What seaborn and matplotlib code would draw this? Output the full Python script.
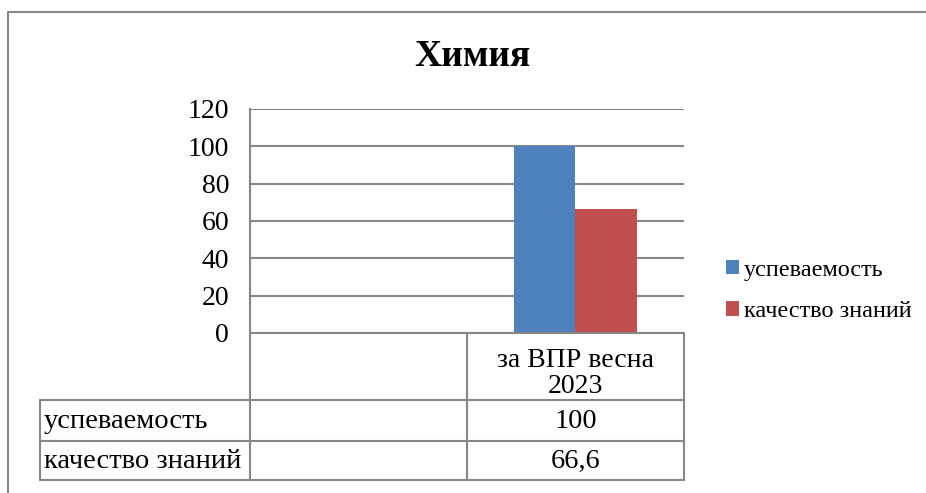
import numpy as np
import pandas as pd
import matplotlib
matplotlib.use("Agg")
import matplotlib.pyplot as plt
from matplotlib.lines import Line2D
import seaborn as sns

# data
categories = ["", "за ВПР весна\n2023"]
series_names = ["успеваемость", "качество знаний"]
uspevaemost = [None, 100]
kachestvo = [None, 66.6]
value_labels = {"успеваемость": ["", "100"], "качество знаний": ["", "66,6"]}
colors = ["#4F81BD", "#C0504D"]

W, H = 926, 493
GRID = "#878787"


def fx(x):
    return x / W


def fy(y):
    return 1 - y / H


rows = []
for cat, a, b in zip(categories, uspevaemost, kachestvo):
    rows.append({"cat": cat, "series": series_names[0], "value": a})
    rows.append({"cat": cat, "series": series_names[1], "value": b})
df = pd.DataFrame(rows).dropna(subset=["value"])

sns.set_style("white")
plt.rcParams["font.family"] = ["Liberation Serif", "DejaVu Serif"]
plt.rcParams["text.color"] = "black"
plt.rcParams["xtick.color"] = "black"
plt.rcParams["ytick.color"] = "black"

fig = plt.figure(figsize=(W / 100, H / 100), dpi=100)
ax_l, ax_r, ax_t, ax_b = 250, 684, 109, 333
ax = fig.add_axes([fx(ax_l), fy(ax_b), fx(ax_r - ax_l), (ax_b - ax_t) / H])

sns.barplot(data=df, x="cat", y="value", hue="series", order=categories,
            hue_order=series_names, palette=colors, width=0.571, gap=0,
            saturation=1, errorbar=None, ax=ax, linewidth=0)

ax.set_xlim(-0.5, len(categories) - 0.5)
ax.set_ylim(0, 120)
ax.set_yticks(np.arange(0, 121, 20))
ax.yaxis.grid(True, color=GRID, linewidth=1.5)
ax.set_axisbelow(True)
for side in ["top", "right", "bottom"]:
    ax.spines[side].set_visible(False)
ax.spines["left"].set_color(GRID)
ax.spines["left"].set_linewidth(1.5)
ax.tick_params(axis="y", length=0, pad=15, labelsize=20)
ax.set_xticks(range(len(categories)))
ax.set_xticklabels(categories, fontsize=20, linespacing=1.05)
ax.tick_params(axis="x", length=0, pad=10.5)
ax.set_xlabel("")
ax.set_ylabel("")

# legend
handles, labels = ax.get_legend_handles_labels()
ax.get_legend().remove()
fig.legend(handles, labels, loc="center left",
           bbox_to_anchor=(fx(704), fy(291)), frameon=False,
           fontsize=17.5, handlelength=0.55, handleheight=0.55,
           handletextpad=0.2, labelspacing=0.85)

# title
fig.text(fx(472), fy(57), "Химия", ha="center", va="center",
         fontsize=27, fontweight="bold")

# data table below the axis
ncat = len(categories)
col_w = (ax_r - ax_l) / ncat
bounds = [ax_l + i * col_w for i in range(ncat + 1)]
centers = [ax_l + (i + 0.5) * col_w for i in range(ncat)]
tab_left = 40
row_tops = [400, 441, 480]


def seg(x0, y0, x1, y1):
    fig.add_artist(Line2D([fx(x0), fx(x1)], [fy(y0), fy(y1)],
                          color=GRID, linewidth=1.5))


seg(ax_l, ax_b, ax_r, ax_b)
for b in bounds:
    seg(b, ax_b, b, row_tops[-1])
for y in row_tops:
    seg(tab_left, y, ax_r, y)
seg(tab_left, row_tops[0], tab_left, row_tops[-1])

for i, name in enumerate(series_names):
    yc = (row_tops[i] + row_tops[i + 1]) / 2 + 1
    fig.text(fx(tab_left + 4), fy(yc), name, ha="left", va="center", fontsize=20.5)
    for c, txt in zip(centers, value_labels[name]):
        fig.text(fx(c), fy(yc), txt, ha="center", va="center", fontsize=20.5)

# outer chart frame (partly cropped)
fig.add_artist(Line2D([fx(8), fx(8), fx(W)], [fy(H), fy(12), fy(12)],
                      color=GRID, linewidth=1.5))

fig.savefig("out.png", dpi=100)
